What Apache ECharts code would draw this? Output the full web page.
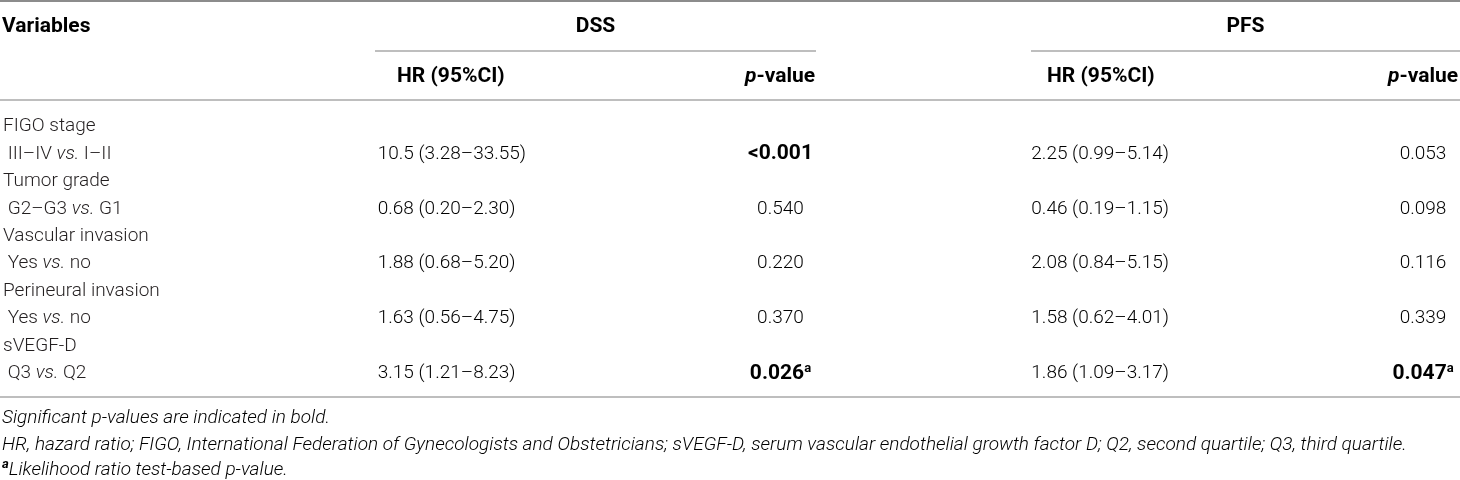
<!DOCTYPE html>
<html>
<head>
    <meta charset="utf-8">
    <title>DSS / PFS table</title>
    <script src="https://cdn.jsdelivr.net/npm/echarts@6/dist/echarts.min.js"></script>
    <style>
        html, body { margin: 0; padding: 0; background: #fff; }
        #table { width: 1460px; height: 480px; }
    </style>
</head>
<body>
    <div id="table"></div>

    <script type="text/javascript">
        // table content
        var variables   = ['FIGO stage', 'Tumor grade', 'Vascular invasion', 'Perineural invasion', 'sVEGF-D'];
        var comparisons = [['III–IV', 'I–II'], ['G2–G3', 'G1'], ['Yes', 'no'], ['Yes', 'no'], ['Q3', 'Q2']];
        var dssHR = ['10.5 (3.28–33.55)', '0.68 (0.20–2.30)', '1.88 (0.68–5.20)', '1.63 (0.56–4.75)', '3.15 (1.21–8.23)'];
        var dssP  = ['<0.001', '0.540', '0.220', '0.370', '0.026'];
        var pfsHR = ['2.25 (0.99–5.14)', '0.46 (0.19–1.15)', '2.08 (0.84–5.15)', '1.58 (0.62–4.01)', '1.86 (1.09–3.17)'];
        var pfsP  = ['0.053', '0.098', '0.116', '0.339', '0.047'];
        var dssBold = [true, false, false, false, true];
        var pfsBold = [false, false, false, false, true];
        var dssSup  = ['', '', '', '', 'a'];
        var pfsSup  = ['', '', '', '', 'a'];
        var groups = ['DSS', 'PFS'];
        var subHeaders = ['HR (95%CI)', 'p-value'];
        var footnotes = [
            'Significant p-values are indicated in bold.',
            'HR, hazard ratio; FIGO, International Federation of Gynecologists and Obstetricians; sVEGF-D, serum vascular endothelial growth factor D; Q2, second quartile; Q3, third quartile.',
            'Likelihood ratio test-based p-value.'
        ];

        // layout
        var FONT = 'Roboto';
        var INK = '#231f20';
        var RULE = '#a8a8a8';
        var W = 1460;
        var col = { dssHR: 377, dssP: 780, pfsHR: 1031, pfsP: 1423 };
        var span = { dss: [375, 816], pfs: [1031, 1460] };

        // row labels for the y axis: group name, then its comparison
        var rowLabels = [];
        variables.forEach(function (v, i) {
            rowLabels.push(v);
            rowLabels.push(comparisons[i][0] + ' vs. ' + comparisons[i][1]);
        });

        var rich = {
            n:  { fontFamily: FONT, fontSize: 19, fontWeight: 300, color: INK },
            i:  { fontFamily: FONT, fontSize: 19, fontWeight: 300, fontStyle: 'italic', color: INK },
            b:  { fontFamily: FONT, fontSize: 21, fontWeight: 'bold', color: INK },
            s:  { fontFamily: FONT, fontSize: 13, fontWeight: 'bold', color: INK, padding: [0, 0, 10, 0] },
            hb: { fontFamily: FONT, fontSize: 21, fontWeight: 'bold', color: INK },
            hi: { fontFamily: FONT, fontSize: 21, fontWeight: 'bold', fontStyle: 'italic', color: INK },
            fi: { fontFamily: FONT, fontSize: 19, fontWeight: 300, fontStyle: 'italic', color: INK },
            fs: { fontFamily: FONT, fontSize: 13, fontWeight: 'bold', fontStyle: 'italic', color: INK, padding: [0, 0, 10, 0] }
        };

        function cellSeries(values, x, align, bold, sup) {
            return {
                type: 'custom',
                coordinateSystem: 'cartesian2d',
                silent: true,
                data: values.map(function (v, i) { return [x, 2 * i + 1, i]; }),
                renderItem: function (params, api) {
                    var i = api.value(2);
                    var p = api.coord([api.value(0), api.value(1)]);
                    var txt = '{' + (bold && bold[i] ? 'b' : 'n') + '|' + values[i] + '}';
                    if (sup && sup[i]) txt += '{s|' + sup[i] + '}';
                    return {
                        type: 'text',
                        x: p[0], y: p[1],
                        style: { text: txt, rich: rich, align: align, verticalAlign: 'middle' }
                    };
                }
            };
        }

        function pValueHeader() {
            var parts = subHeaders[1].split('-');
            return '{hi|' + parts[0] + '}{hb|-' + parts[1] + '}';
        }

        var graphics = [];
        function hline(x1, x2, y, w, c) {
            graphics.push({ type: 'line', silent: true, shape: { x1: x1, y1: y, x2: x2, y2: y },
                style: { stroke: c || RULE, lineWidth: w || 1.5 } });
        }
        function label(txt, x, y, align) {
            graphics.push({ type: 'text', silent: true, x: x, y: y,
                style: { text: txt, rich: rich, align: align, verticalAlign: 'middle' } });
        }

        hline(0, W, 1, 2, '#8c8c8c');
        hline(span.dss[0], span.dss[1], 51);
        hline(span.pfs[0], span.pfs[1], 51);
        hline(0, W, 100);
        hline(0, W, 397);

        label('{hb|Variables}', 2, 27, 'left');
        label('{hb|' + groups[0] + '}', (span.dss[0] + span.dss[1]) / 2, 27, 'center');
        label('{hb|' + groups[1] + '}', (span.pfs[0] + span.pfs[1]) / 2, 27, 'center');
        label('{hb|' + subHeaders[0] + '}', col.dssHR + 20, 77, 'left');
        label('{hb|' + subHeaders[0] + '}', col.pfsHR + 16, 77, 'left');
        label(pValueHeader(), col.dssP, 77, 'center');
        label(pValueHeader(), col.pfsP, 77, 'center');

        label('{fi|' + footnotes[0] + '}', 2, 418, 'left');
        label('{fi|' + footnotes[1] + '}', 2, 445, 'left');
        label('{fs|a}{fi|' + footnotes[2] + '}', 2, 470, 'left');

        var chart = echarts.init(document.getElementById('table'));
        var option = {
            animation: false,
            grid: { left: 0, right: 0, top: 113, bottom: 93 },
            xAxis: { type: 'value', min: 0, max: W, show: false },
            yAxis: {
                type: 'category',
                inverse: true,
                data: rowLabels,
                axisLine: { show: false },
                axisTick: { show: false },
                splitLine: { show: false },
                axisLabel: {
                    inside: true,
                    interval: 0,
                    margin: 2,
                    formatter: function (val, idx) {
                        if (idx % 2 === 0) return '{n|' + val + '}';
                        var parts = val.split(' vs. ');
                        return '{n|\u00a0' + parts[0] + ' }{i|vs.}{n| ' + parts[1] + '}';
                    },
                    rich: rich
                }
            },
            graphic: graphics,
            series: [
                cellSeries(dssHR, col.dssHR, 'left'),
                cellSeries(dssP, col.dssP, 'center', dssBold, dssSup),
                cellSeries(pfsHR, col.pfsHR, 'left'),
                cellSeries(pfsP, col.pfsP, 'center', pfsBold, pfsSup)
            ]
        };
        chart.setOption(option);
    </script>
</body>
</html>
